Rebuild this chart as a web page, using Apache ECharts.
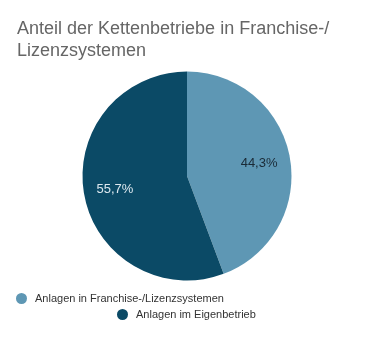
<!DOCTYPE html>
<html>
<head>
<meta charset="utf-8">
<script src="https://cdn.jsdelivr.net/npm/echarts@6/dist/echarts.min.js"></script>
<style>html,body{margin:0;padding:0;background:#fff;}#c{width:375px;height:338px;}</style>
</head>
<body>
<div id="c"></div>
<script>
const titleText = "Anteil der Kettenbetriebe in Franchise-/\nLizenzsystemen";
const categories = ["Anlagen in Franchise-/Lizenzsystemen", "Anlagen im Eigenbetrieb"];
const values = [44.3, 55.7];
const colors = ["#5e97b4", "#0b4a66"];
const labelColors = ["#1a2a36", "#dde8ef"];

const chart = echarts.init(document.getElementById('c'), null, {renderer: 'canvas'});
const data = categories.map((n, i) => ({name: n, value: values[i], itemStyle: {color: colors[i]}}));
const fmt = p => p.value.toFixed(1).replace('.', ',') + '%';
const font = 'Liberation Sans, Arial, sans-serif';
const legendText = {fontFamily: font, fontSize: 11, color: '#333', padding: [0, 0, 0, 3]};

chart.setOption({
  animation: false,
  title: {
    text: titleText, left: 12, top: 13,
    textStyle: {fontFamily: font, fontSize: 18, fontWeight: 'normal', color: '#666', lineHeight: 22}
  },
  legend: [
    {data: [categories[0]], left: 11, top: 288, icon: 'circle', itemWidth: 11, itemHeight: 11, itemGap: 8,
     textStyle: legendText},
    {data: [categories[1]], left: 112, top: 304, icon: 'circle', itemWidth: 11, itemHeight: 11, itemGap: 8,
     textStyle: legendText}
  ],
  series: [
    {
      type: 'pie', center: [187, 176], radius: [0, 104.5], startAngle: 90, clockwise: true,
      label: {show: false}, labelLine: {show: false}, data: data,
      emphasis: {disabled: true}
    },
    {
      type: 'pie', center: [187, 176], radius: [36, 104.5], startAngle: 90, clockwise: true, silent: true,
      itemStyle: {color: 'rgba(0,0,0,0)'},
      label: {show: true, position: 'inside', formatter: fmt, fontFamily: font, fontSize: 13},
      labelLine: {show: false},
      data: categories.map((n, i) => ({name: n, value: values[i],
        itemStyle: {color: 'rgba(0,0,0,0)'}, label: {color: labelColors[i]}})),
      emphasis: {disabled: true}
    }
  ]
});
</script>
</body>
</html>
